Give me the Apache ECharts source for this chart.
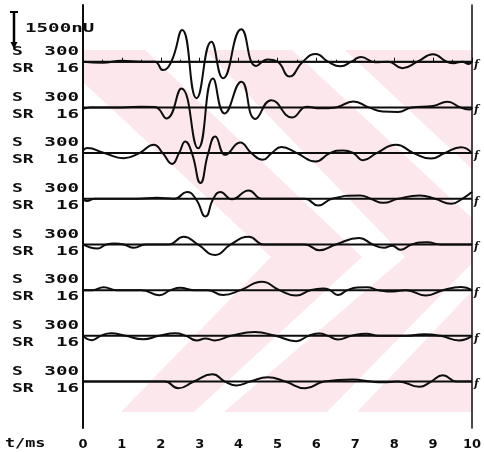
<!DOCTYPE html>
<html>
<head>
<meta charset="utf-8">
<script src="https://cdn.jsdelivr.net/npm/echarts@6/dist/echarts.min.js"></script>
<style>
  html, body { margin: 0; padding: 0; background: #fff; }
  #main { width: 484px; height: 453px; }
</style>
</head>
<body>
<div id="main"></div>
<script>
// tick labels of the time axis (ms)
var timeTicks = ['0', '1', '2', '3', '4', '5', '6', '7', '8', '9', '10'];
// per trace labels on the left
var gainLabels = ['300', '300', '300', '300', '300', '300', '300', '300'];
var srLabels = ['16', '16', '16', '16', '16', '16', '16', '16'];
var scaleLabel = '1500nU';
var scaleValue = 1500; // uV

// turning points of each trace, [t (ms), amplitude (uV)]
var trace1 = [[0,0],[0.5,-40],[1.0,40],[1.5,0],[1.85,0],[2.05,-350],[2.27,0],[2.55,1320],[2.92,-1520],[3.30,830],[3.60,-690],[4.07,1350],[4.45,-180],[4.75,90],[5.0,0],[5.31,-620],[5.65,0],[5.99,320],[6.3,0],[6.62,-190],[6.9,0],[7.15,200],[7.5,-20],[7.85,0],[8.21,-270],[8.6,0],[9.0,310],[9.35,0],[9.55,-60],[9.75,0],[9.92,-100],[10,0]];
var trace2 = [[0,-60],[0.2,0],[1.0,0],[1.5,30],[1.85,20],[2.15,-460],[2.53,790],[2.96,-1700],[3.34,1200],[3.64,-250],[4.07,1070],[4.43,-480],[4.84,300],[5.38,-420],[5.75,30],[6.1,-40],[6.5,0],[6.95,250],[7.35,0],[7.7,-170],[8.1,-190],[8.45,0],[9.0,60],[9.37,240],[9.7,0],[9.95,-90],[10,0]];
var trace3 = [[0,100],[0.11,210],[0.55,0],[1.05,-210],[1.45,0],[1.82,350],[2.05,0],[2.29,-450],[2.47,0],[2.63,480],[2.8,0],[3.02,-1250],[3.22,0],[3.40,690],[3.66,-70],[4.04,440],[4.33,0],[4.62,-280],[4.85,0],[5.1,250],[5.5,0],[5.98,-350],[6.35,0],[6.69,110],[6.95,0],[7.2,-300],[7.55,0],[8.05,350],[8.5,0],[8.95,-230],[9.3,0],[9.72,240],[10,0]];
var trace4 = [[0,0],[0.1,-90],[0.3,0],[1.4,0],[1.9,40],[2.35,0],[2.67,280],[2.9,0],[3.15,-740],[3.35,0],[3.53,280],[3.83,-20],[4.26,350],[4.6,0],[5.7,0],[6.05,-280],[6.4,0],[7.12,140],[7.4,0],[7.72,-170],[8.1,0],[8.66,140],[9.05,0],[9.47,-210],[9.75,0],[10,280]];
var trace5 = [[0,0],[0.37,-170],[0.6,0],[0.8,40],[1.05,0],[1.31,-140],[1.6,0],[2.2,0],[2.59,320],[2.95,0],[3.40,-440],[3.8,0],[4.26,320],[4.65,0],[5.7,0],[6.08,-240],[6.5,0],[7.1,270],[7.45,0],[7.74,-140],[7.95,-50],[8.16,-220],[8.45,0],[8.85,90],[9.2,0],[10,0]];
var trace6 = [[0,0],[0.25,0],[0.53,120],[0.85,0],[1.5,0],[1.96,-210],[2.25,0],[2.5,100],[2.85,0],[3.2,0],[3.6,-200],[4.05,0],[4.6,350],[5.05,0],[5.48,-220],[5.85,0],[6.17,70],[6.35,0],[6.55,-200],[6.8,0],[7.05,110],[7.3,120],[7.6,0],[7.97,-60],[8.3,0],[8.82,-220],[9.25,0],[9.72,130],[10,0]];
var trace7 = [[0,0],[0.23,-180],[0.45,0],[0.72,110],[1.1,0],[1.55,-140],[1.95,0],[2.37,110],[2.65,0],[2.92,-190],[3.15,-110],[3.38,-190],[3.8,0],[4.42,160],[4.95,0],[5.48,-220],[5.8,0],[6.08,100],[6.3,0],[6.55,-150],[6.9,0],[7.28,90],[7.6,0],[8.3,0],[8.77,70],[9.2,0],[9.67,-190],[10,0]];
var trace8 = [[0,0],[2.1,0],[2.45,-280],[2.85,0],[3.33,300],[3.65,0],[3.95,-160],[4.3,0],[4.75,180],[5.2,0],[5.72,-280],[6.2,0],[6.93,80],[7.4,0],[7.7,-30],[8.1,0],[8.65,-220],[8.95,0],[9.25,260],[9.6,0],[10,0]];

var traces = [trace1, trace2, trace3, trace4, trace5, trace6, trace7, trace8];
var gap = 1904; // uV between trace baselines
var ink = '#0d0d0d';
var pink = '#fce8ec';
var labelFont = 'bold 12px "DejaVu Sans Mono"';

var chart = echarts.init(document.getElementById('main'));

var series = [];
traces.forEach(function (tr, k) {
  var off = -k * gap;
  series.push({
    type: 'line',
    data: [[0, off], [10, off]],
    symbol: 'none',
    silent: true,
    clip: false,
    lineStyle: { color: ink, width: 2 },
    endLabel: {
      show: true,
      formatter: 'f',
      distance: 2,
      offset: [0, 3],
      color: ink,
      fontSize: 11,
      fontStyle: 'italic',
      fontWeight: 'bold',
      fontFamily: 'DejaVu Serif'
    }
  });
  series.push({
    type: 'line',
    data: tr.map(function (p) { return [p[0], p[1] + off]; }),
    symbol: 'none',
    smooth: 0.5,
    silent: true,
    clip: false,
    lineStyle: { color: ink, width: 2 }
  });
});

chart.setOption({
  animation: false,
  backgroundColor: '#fff',
  grid: { left: 83, right: 11, top: 5, bottom: 25 },
  xAxis: {
    type: 'value',
    min: 0,
    max: 10,
    interval: 1,
    axisLine: { lineStyle: { color: ink, width: 1.5 } },
    axisTick: { inside: true, length: 4, lineStyle: { color: ink } },
    minorTick: { show: true, splitNumber: 2, length: 2, lineStyle: { color: ink } },
    splitLine: { show: false },
    axisLabel: {
      margin: 10,
      color: ink,
      fontSize: 13,
      fontWeight: 'bold',
      fontFamily: 'DejaVu Sans',
      formatter: function (v) { return timeTicks[Math.round(v)]; }
    }
  },
  yAxis: [
    {
      type: 'value',
      min: -15264,
      max: 2363,
      axisLine: { show: true, lineStyle: { color: ink, width: 2 } },
      axisTick: { show: false },
      axisLabel: { show: false },
      splitLine: { show: false }
    },
    {
      type: 'value',
      position: 'right',
      min: -15264,
      max: 2363,
      axisLine: { show: true, onZero: false, lineStyle: { color: ink, width: 1.5 } },
      axisTick: { show: false },
      axisLabel: { show: false },
      splitLine: { show: false }
    }
  ],
  series: series
});

// decoration and labels, placed from the axis scale
var g = [];
// faint pink watermark (chevrons) behind the traces
g.push({ type: 'rect', z: -10, silent: true, shape: { x: 84, y: 50, width: 389, height: 362 }, style: { fill: pink } });
[
  [[84, 83], [271, 257], [121, 412], [84, 412]],
  [[145, 50], [205, 50], [405, 257], [224, 412], [194, 412], [362, 257]],
  [[292, 50], [345, 50], [473, 170], [473, 219]],
  [[327, 412], [357, 412], [473, 290], [473, 262]]
].forEach(function (pts) {
  g.push({ type: 'polygon', z: -9, silent: true, shape: { points: pts }, style: { fill: '#fff' } });
});

traces.forEach(function (tr, k) {
  var yb = chart.convertToPixel({ yAxisIndex: 0 }, -k * gap);
  g.push({ type: 'text', x: 12, y: yb - 10, scaleX: 1.5, style: { text: 'S', font: labelFont, fill: ink, textAlign: 'left', textVerticalAlign: 'middle' } });
  g.push({ type: 'text', x: 79, y: yb - 10, scaleX: 1.6, style: { text: gainLabels[k], font: labelFont, fill: ink, textAlign: 'right', textVerticalAlign: 'middle' } });
  g.push({ type: 'text', x: 12, y: yb + 7, scaleX: 1.5, style: { text: 'SR', font: labelFont, fill: ink, textAlign: 'left', textVerticalAlign: 'middle' } });
  g.push({ type: 'text', x: 79, y: yb + 7, scaleX: 1.6, style: { text: srLabels[k], font: labelFont, fill: ink, textAlign: 'right', textVerticalAlign: 'middle' } });
});

// 1500 uV scale bar
var y0 = chart.convertToPixel({ yAxisIndex: 0 }, 0);
var barLen = Math.abs(y0 - chart.convertToPixel({ yAxisIndex: 0 }, scaleValue));
var barTop = 12;
g.push({ type: 'polyline', z: 5, shape: { points: [[14, barTop], [14, barTop + barLen - 3]] }, style: { stroke: '#000', lineWidth: 2.5, fill: null } });
g.push({ type: 'polyline', z: 5, shape: { points: [[10, barTop], [18, barTop]] }, style: { stroke: '#000', lineWidth: 2, fill: null } });
g.push({ type: 'polygon', z: 5, shape: { points: [[10.5, barTop + barLen - 6], [17.5, barTop + barLen - 6], [14, barTop + barLen + 1]] }, style: { fill: '#000' } });
g.push({ type: 'text', x: 25, y: 29, scaleX: 1.6, style: { text: scaleLabel, font: labelFont, fill: ink, textAlign: 'left', textVerticalAlign: 'middle' } });

// axis title
g.push({ type: 'text', x: 5, y: 444, scaleX: 1.4, style: { text: 't/ms', font: labelFont, fill: ink, textAlign: 'left', textVerticalAlign: 'middle' } });

chart.setOption({ graphic: g });
</script>
</body>
</html>
